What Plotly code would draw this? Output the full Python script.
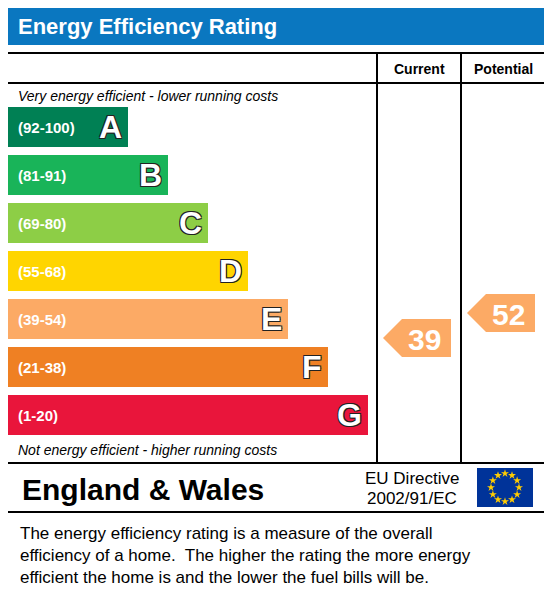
import plotly.graph_objects as go
import math

bands = ["A", "B", "C", "D", "E", "F", "G"]
ranges = ["(92-100)", "(81-91)", "(69-80)", "(55-68)", "(39-54)", "(21-38)", "(1-20)"]
colors = ["#008054", "#19b459", "#8dce46", "#ffd500", "#fcaa65", "#ef8023", "#e9153b"]
current = 39
potential = 52
title = "Energy Efficiency Rating"
footer = ["The energy efficiency rating is a measure of the overall",
          "efficiency of a home.  The higher the rating the more energy",
          "efficient the home is and the lower the fuel bills will be."]

W, H = 552, 613
OFF = 8  # page body margin
FONT = "Liberation Sans, Arial, sans-serif"
fig = go.Figure()
shapes, ann = [], []

def rect(x0, y0, x1, y1, fill=None, line="#000", lw=2):
    shapes.append(dict(type="rect", x0=x0, y0=y0, x1=x1, y1=y1,
                       fillcolor=fill, line=dict(color=line, width=lw), layer="below"))

def text(x, y, t, size, color="#000", bold=False, anchor="left", italic=False, shadow=None):
    if bold: t = "<b>" + t + "</b>"
    if italic: t = "<i>" + t + "</i>"
    f = dict(family=FONT, size=size, color=color)
    if shadow: f["shadow"] = shadow
    ann.append(dict(x=x, y=y, text=t, showarrow=False, xanchor=anchor, yanchor="middle", font=f))

outline = "1px 1px 0 #222, -1px -1px 0 #222, 1px -1px 0 #222, -1px 1px 0 #222"

rect(5, 5, 546, 45, fill="#0a77c0", line="#0a77c0", lw=0)
text(16, 26, title, 22, "#fff", bold=True)

rect(5, 53, 546, 512, lw=2)
shapes.append(dict(type="line", x0=5, x1=546, y0=83, y1=83, line=dict(color="#000", width=2)))
shapes.append(dict(type="line", x0=5, x1=546, y0=463, y1=463, line=dict(color="#000", width=2)))
for x in (377, 461):
    shapes.append(dict(type="line", x0=x, x1=x, y0=53, y1=463, line=dict(color="#000", width=2)))
text(419, 69, "Current", 14, bold=True, anchor="center")
text(503, 69, "Potential", 14, bold=True, anchor="center")
text(16, 96, "Very energy efficient - lower running costs", 14, italic=True)
text(16, 450, "Not energy efficient - higher running costs", 14, italic=True)

centers = [127 + 48 * i for i in range(7)]
widths = [120 + 40 * i for i in range(7)]
fig.add_trace(go.Bar(y=centers, x=widths, base=8, orientation="h", width=40,
                     marker=dict(color=colors, line=dict(width=0)), hoverinfo="skip"))
for i, b in enumerate(bands):
    c = centers[i]
    text(16, c, ranges[i], 15, "#fff", bold=True)
    text(8 + widths[i] - 4, c, b, 32, "#fff", bold=True, anchor="right", shadow=outline)

def rating_y(v):
    return 338 - (v - 39) * 25 / 13

def band_color(v):
    lows = [92, 81, 69, 55, 39, 21, 1]
    for lo, col in zip(lows, colors):
        if v >= lo:
            return col
    return colors[-1]

for v, x0, x1 in ((current, 383, 451), (potential, 467, 535)):
    yc = rating_y(v)
    h = 19
    path = f"M {x0} {yc} L {x0+19} {yc-h} L {x1} {yc-h} L {x1} {yc+h} L {x0+19} {yc+h} Z"
    shapes.append(dict(type="path", path=path, fillcolor=band_color(v), line=dict(width=0), layer="below"))
    text((x0 + 19 + x1) / 2 - 2, yc + 1, str(v), 30, "#fff", bold=True, anchor="center")

text(20, 489, "England & Wales", 30, bold=True)
text(412, 478, "EU Directive", 17, anchor="center")
text(412, 498, "2002/91/EC", 17, anchor="center")
rect(477, 468, 533, 507, fill="#003399", line="#003399", lw=0)
sx = [505 + 14 * math.cos(2 * math.pi * k / 12) for k in range(12)]
sy = [487.5 + 14 * math.sin(2 * math.pi * k / 12) for k in range(12)]
fig.add_trace(go.Scatter(x=sx, y=sy, mode="markers", hoverinfo="skip",
                         marker=dict(symbol="star", size=6, color="#ffcc00", line=dict(width=0))))

for i, line in enumerate(footer):
    text(18, 533 + 22 * i, line, 17)

fig.update_layout(width=W, height=H, margin=dict(l=0, r=0, t=0, b=0),
                  paper_bgcolor="#fff", plot_bgcolor="#fff", showlegend=False,
                  shapes=shapes, annotations=ann, bargap=0,
                  xaxis=dict(range=[OFF, W + OFF], visible=False, fixedrange=True),
                  yaxis=dict(range=[H + OFF, OFF], visible=False, fixedrange=True))
fig.write_html("out.html", config={"displayModeBar": False})
